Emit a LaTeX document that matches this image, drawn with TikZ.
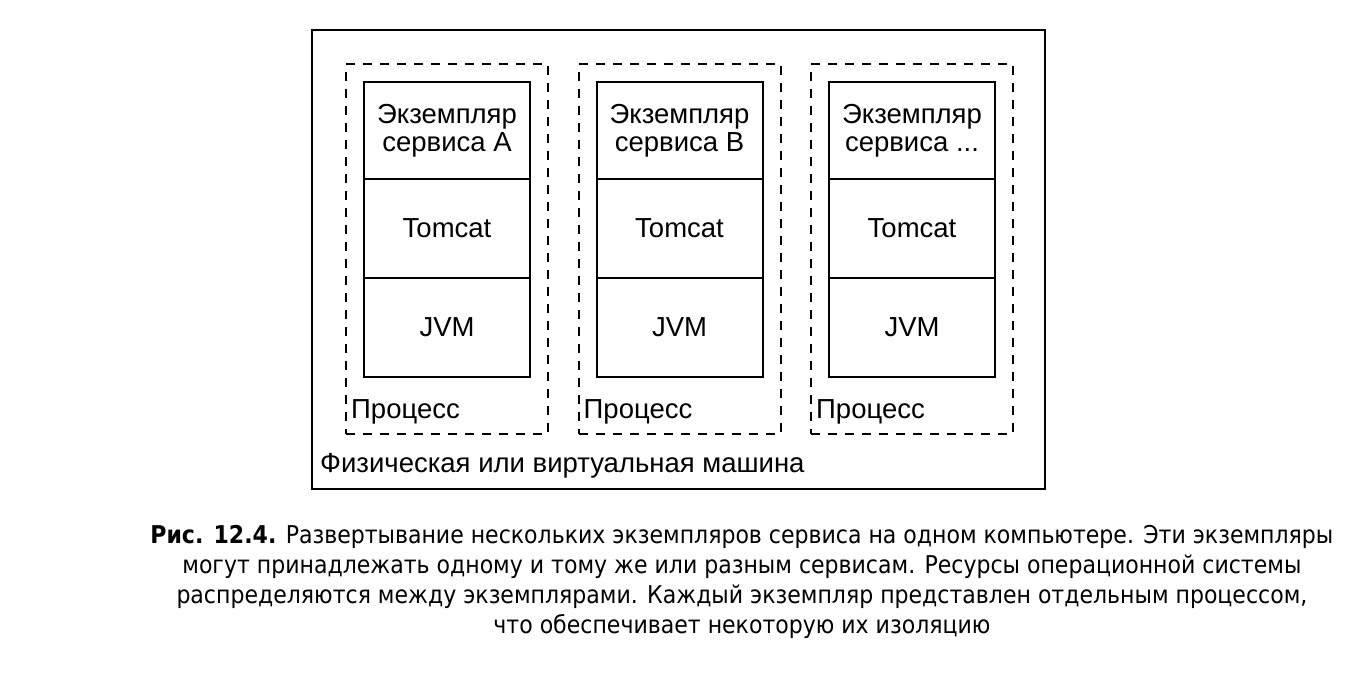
\documentclass[tikz,border=0pt]{standalone}
\usepackage{fontspec}
\setmainfont{Liberation Sans}
\newfontfamily\capfont{DejaVu Sans Condensed}
\begin{document}
\begin{tikzpicture}[x=1pt,y=-1pt,
  machinebox/.style={draw, line width=2pt, anchor=north west, minimum width=733pt, minimum height=459pt, inner sep=0pt},
  procbox/.style={draw, dashed, dash pattern=on 9pt off 8pt, line width=2pt, anchor=north west, minimum width=202pt, minimum height=370pt, inner sep=0pt},
  layer/.style={draw, line width=2pt, anchor=north west, minimum width=166pt, inner sep=0pt, font=\fontsize{27.5}{28}\selectfont, align=center},
  lbl/.style={anchor=west, inner sep=0pt, font=\fontsize{27.5}{30}\selectfont},
  caption/.style={align=center, inner sep=0pt, font=\capfont\fontsize{24.5}{30}\selectfont}
]
\useasboundingbox (0,0) rectangle (1360,678);
\node[machinebox] (machine) at (311,29) {};
\node[lbl] (machinelbl) at (320,466) {Физическая или виртуальная машина};
\foreach \i/\nm/\svc in {0/a/A, 1/b/B, 2/c/{...}} {
  \pgfmathsetmacro{\dx}{\i*232.5}
  \node[procbox] (proc\nm) at (345+\dx,63) {};
  \node[lbl] (proclbl\nm) at (351+\dx,412) {Процесс};
  \node[layer, minimum height=97pt] (svc\nm) at (363+\dx,81) {Экземпляр\\сервиса \svc};
  \node[layer, minimum height=99pt] (tomcat\nm) at (363+\dx,178) {Tomcat};
  \node[layer, minimum height=99pt] (jvm\nm) at (363+\dx,277) {JVM};
}
\node[caption] (cap) at (742,582) {{\bfseries Рис. 12.4.} Развертывание нескольких экземпляров сервиса на одном компьютере. Эти экземпляры\\могут принадлежать одному и тому же или разным сервисам. Ресурсы операционной системы\\распределяются между экземплярами. Каждый экземпляр представлен отдельным процессом,\\что обеспечивает некоторую их изоляцию};
\end{tikzpicture}
\end{document}
